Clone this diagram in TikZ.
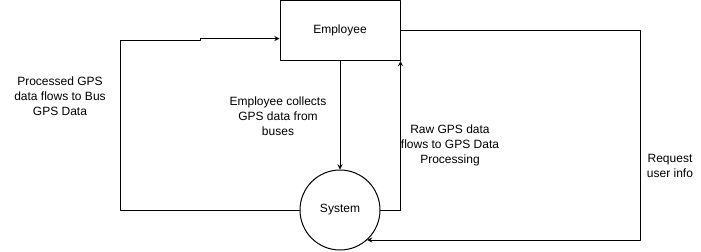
\documentclass[tikz,border=0pt]{standalone}
\usepackage{fontspec}
\setmainfont{Liberation Sans}
\usetikzlibrary{arrows}

\begin{document}
\begin{tikzpicture}[line cap=round,line join=round,>=stealth,x=0.75pt,y=-0.75pt,
		every node/.style={font=\fontsize{9}{11.25}\selectfont},
		entity/.style={draw,line width=0.75pt,minimum width=90pt,minimum height=45pt,inner sep=0pt},
		process/.style={draw,circle,line width=0.75pt,minimum size=60pt,inner sep=0pt},
		flow/.style={line width=0.75pt},
		note/.style={align=center,inner sep=0pt}]
		\useasboundingbox (0,0) rectangle (701,251);
		% boxes
		\node[entity] (emp) at (340,30.5) {Employee};
		\node[process] (sys) at (340,210) {System};
		% corners of the flows
		\coordinate (l1) at (120,210);
		\coordinate (l2) at (120,40);
		\coordinate (l3) at (200,40);
		\coordinate (l4) at (200,38.5);
		\coordinate (r1) at (640,30);
		\coordinate (r2) at (640,240);
		\draw [flow,->] (emp.south) -- (sys.north);
		\draw [flow,->] (sys.west) -- (l1) -- (l2) -- (l3) -- (l4) -- (l4 -| emp.west);
		\draw [flow,->] (sys.east) -| (emp.south east);
		\draw [flow,->] (emp.east |- r1) -- (r1) -- (r2) -- (r2 -| sys.-48.6);
		% labels
		\node[note] (t1) at (60,96) {Processed GPS\\data flows to Bus\\GPS Data};
		\node[note] (t2) at (278,116) {Employee collects\\GPS data from\\buses};
		\node[note] (t3) at (450,145) {Raw GPS data\\flows to GPS Data\\Processing};
		\node[note] (t4) at (670,165.5) {Request\\user info};
	\end{tikzpicture}
\end{document}
